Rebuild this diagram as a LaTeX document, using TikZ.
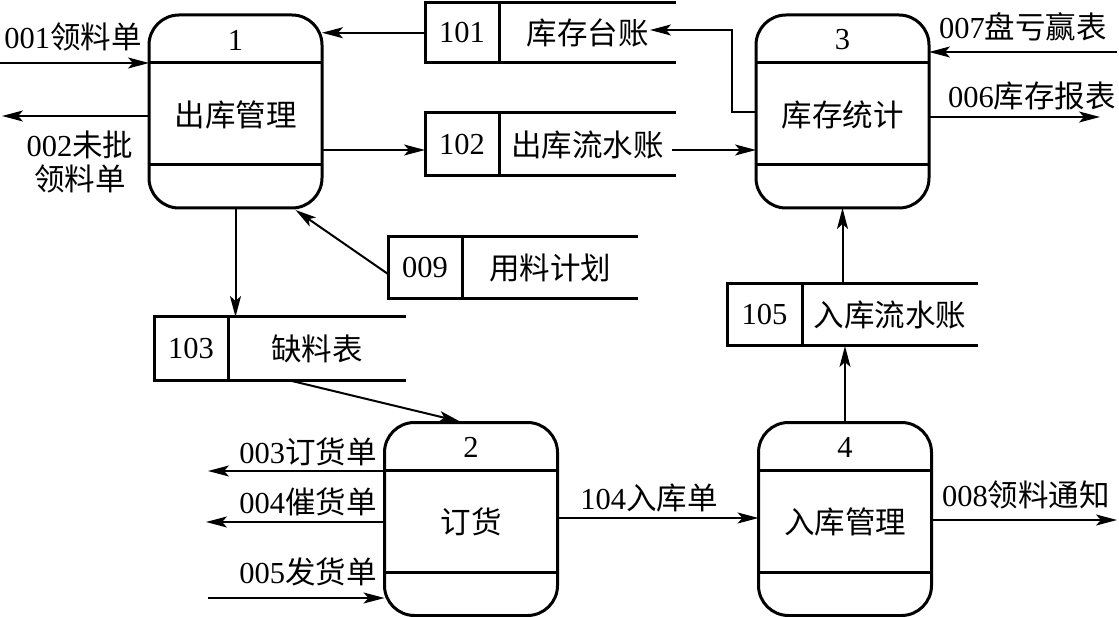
\documentclass[tikz,border=0pt]{standalone}
\usepackage{fontspec}
\setmainfont{Liberation Serif}
\newfontfamily\cjk{Noto Sans CJK SC}
\usetikzlibrary{arrows.meta,calc}
\newcommand\dstore[8]{%
  \node[inner sep=0pt, outer sep=0pt, minimum width={(#4-#2)*1pt}, minimum height={(#6-#5)*1pt}] (#1) at ({(#2+#4)/2},{(#5+#6)/2}) {};
  \draw[sline] (#1.north east) -- (#1.north west) -- (#1.south west) -- (#1.south east);
  \draw[sline] ($(#1.north west)+(#3-#2,0)$) -- ($(#1.south west)+(#3-#2,0)$);
  \node (#1id) at ($(#1.west)+({(#3-#2)/2},0)$) {#7};
  \node (#1tx) at ({(#3+#4)/2},{(#5+#6)/2}) {\cjk #8};
}
\begin{document}
\begin{tikzpicture}[x=1pt,y=-1pt,
  every node/.style={font=\fontsize{30.5}{34}\selectfont, inner sep=0pt},
  proc/.style={draw, line width=3pt, rounded corners=30pt, minimum width=173pt, minimum height=193pt, outer sep=0pt},
  div/.style={line width=3pt},
  sline/.style={line width=3pt},
  arr/.style={line width=2pt, -{Stealth[length=21pt,width=11pt,inset=5pt]}},
  lbl/.style={align=center}
]
\useasboundingbox (0,0) rectangle (1119,617);

% processes
\node[proc] (p1) at (235.5,111.5) {};
\node[proc] (p3) at (842.5,111.5) {};
\node[proc] (p2) at (471,519) {};
\node[proc] (p4) at (845,519) {};
\foreach \p in {p1,p2,p3,p4} {
  \draw[div] ($(\p.north west)+(0,48)$) -- ($(\p.north east)+(0,48)$);
  \draw[div] ($(\p.south west)+(0,-43)$) -- ($(\p.south east)+(0,-43)$);
}
\node (n1) at ($(p1.north)+(0,25)$) {1};
\node (t1) at ($(p1.center)+(0,3)$) {\cjk 出库管理};
\node (n3) at ($(p3.north)+(0,25)$) {3};
\node (t3) at ($(p3.center)+(0,3)$) {\cjk 库存统计};
\node (n2) at ($(p2.north)+(0,25)$) {2};
\node (t2) at ($(p2.center)+(0,3)$) {\cjk 订货};
\node (n4) at ($(p4.north)+(0,25)$) {4};
\node (t4) at ($(p4.center)+(0,3)$) {\cjk 入库管理};

% data stores
\dstore{s101}{425}{499}{676}{2.5}{63}{101}{库存台账}
\dstore{s102}{425}{499}{676}{113}{176}{102}{出库流水账}
\dstore{s103}{154}{228}{406}{317}{381}{103}{缺料表}
\dstore{s009}{388}{462}{638}{237}{299}{009}{用料计划}
\dstore{s105}{727}{802}{978}{284}{346}{105}{入库流水账}

% free ends
\coordinate (e001) at (0,63);
\coordinate (e002) at (2,116);
\coordinate (e007) at (1117,52);
\coordinate (e006) at (1100,117);
\coordinate (e003) at (208,471);
\coordinate (e004) at (206,522);
\coordinate (e005) at (208,598);
\coordinate (e008) at (1117,520);
\coordinate (h102) at (672,150);
\coordinate (h101) at (650,30);
\coordinate (bend) at (732,112);

% connectors
\draw[arr] (e001) -- (e001 -| p1.west);
\draw[arr] (e002 -| p1.west) -- (e002);
\draw[arr] (s101.west) -- (s101.west -| p1.east);
\draw[arr] (h102 -| p1.east) -- (h102 -| s102.west);
\draw[arr] (h102) -- (h102 -| p3.west);
\draw[arr] (bend -| p3.west) -- (bend) |- (h101);
\draw[arr] (e007) -- (e007 -| p3.east);
\draw[arr] (e006 -| p3.east) -- (e006);
\draw[arr] (p1.south) -- (p1.south |- s103.north);
\draw[arr] ($(s009.west)+(0,6)$) -- ($(p1.south)+(60,2)$);
\draw[arr] ($(s103.south)+(12,0)$) -- ($(p2.north)+(-11,-1)$);
\draw[arr] (e003 -| p2.west) -- (e003);
\draw[arr] (e004 -| p2.west) -- (e004);
\draw[arr] (e005) -- (e005 -| p2.west);
\draw[arr] ($(p2.east)+(0,-1)$) -- ($(p4.west)+(0,-1)$);
\draw[arr] (e008 -| p4.east) -- (e008);
\draw[arr] (p4.north) -- (p4.north |- s105.south);
\draw[arr] (p3.south |- s105.north) -- (p3.south);

% labels
\node[lbl] (l001) at (73,37) {001\cjk 领料单};
\node[lbl] (l002) at (80,162) {002\cjk 未批\\\cjk 领料单};
\node[lbl] (l007) at (1023,27) {007\cjk 盘亏赢表};
\node[lbl] (l006) at (1032,96) {006\cjk 库存报表};
\node[lbl] (l003) at (308,452) {003\cjk 订货单};
\node[lbl] (l004) at (308,502) {004\cjk 催货单};
\node[lbl] (l005) at (308,572) {005\cjk 发货单};
\node[lbl] (l104) at (649,498) {104\cjk 入库单};
\node[lbl] (l008) at (1026,495) {008\cjk 领料通知};
\end{tikzpicture}
\end{document}
